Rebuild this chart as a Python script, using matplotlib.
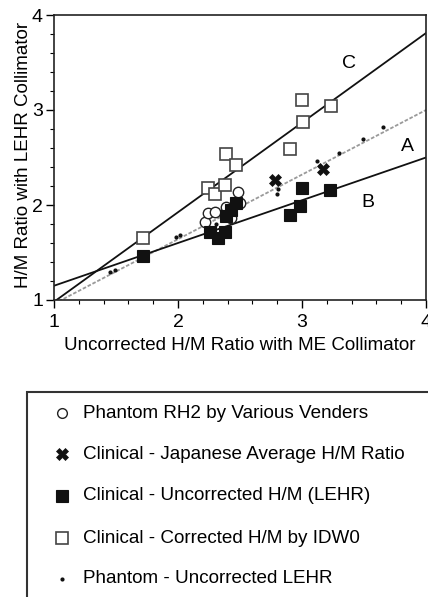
import matplotlib
matplotlib.use("Agg")
import matplotlib.pyplot as plt
import numpy as np
from matplotlib.lines import Line2D
from matplotlib.patches import Rectangle
from matplotlib.ticker import MultipleLocator

plt.rcParams["font.family"] = ["Liberation Sans", "DejaVu Sans"]

# ---- data ----
circ_x = [2.22, 2.245, 2.30, 2.385, 2.43, 2.50, 2.486]
circ_y = [1.82, 1.92, 1.93, 1.98, 1.86, 2.02, 2.14]

cross_x = [2.78, 3.17]
cross_y = [2.26, 2.375]

fsq_x = [1.72, 2.258, 2.325, 2.38, 2.39, 2.43, 2.47, 2.90, 2.98, 3.00, 3.226]
fsq_y = [1.46, 1.72, 1.65, 1.72, 1.88, 1.95, 2.02, 1.895, 1.99, 2.18, 2.16]

osq_x = [1.72, 2.245, 2.30, 2.38, 2.39, 2.47, 2.90, 3.00, 3.01, 3.23]
osq_y = [1.65, 2.18, 2.12, 2.21, 2.54, 2.42, 2.59, 3.11, 2.87, 3.04]

dot_x = [1.45, 1.49, 1.98, 2.02, 2.31, 2.80, 2.81, 3.12, 3.30, 3.49, 3.65]
dot_y = [1.30, 1.32, 1.66, 1.68, 1.80, 2.12, 2.165, 2.46, 2.55, 2.69, 2.82]

line_names = ["A", "B", "C"]
line_slopes = [0.68, 0.45, 0.943]
line_icpts = [0.28, 0.70, 0.038]
label_pos = {"A": (3.85, 2.62), "B": (3.53, 2.03), "C": (3.38, 3.49)}

legend_labels = ["Phantom RH2 by Various Venders",
                 "Clinical - Japanese Average H/M Ratio",
                 "Clinical - Uncorrected H/M (LEHR)",
                 "Clinical - Corrected H/M by IDW0",
                 "Phantom - Uncorrected LEHR"]

fig = plt.figure(figsize=(4.28, 5.97), dpi=100)
ax = fig.add_axes([54 / 428, 297 / 597, 372 / 428, 285 / 597])

xs = np.array([1.0, 4.0])
for name, m, b in zip(line_names, line_slopes, line_icpts):
    if name == "A":
        ax.plot(xs, m * xs + b, color="#9a9a9a", lw=1.3, ls=(0, (2, 1)), zorder=2)
    else:
        ax.plot(xs, m * xs + b, color="#111111", lw=1.3, zorder=2)
    lx, ly = label_pos[name]
    ax.text(lx, ly, name, fontsize=14, ha="center", va="center")

styles = [
    dict(marker="o", ms=7.5, mfc="white", mec="#222222", mew=1.0),
    dict(marker="X", ms=9, mfc="#111111", mec="#111111", mew=0.5),
    dict(marker="s", ms=8.5, mfc="#111111", mec="#111111", mew=0.8),
    dict(marker="s", ms=8.5, mfc="white", mec="#444444", mew=1.2),
    dict(marker="o", ms=3, mfc="#111111", mec="#111111", mew=0),
]
series = [(circ_x, circ_y), (cross_x, cross_y), (fsq_x, fsq_y),
          (osq_x, osq_y), (dot_x, dot_y)]
zorders = [3, 5, 4, 3, 5]
for (sx, sy), st, z in zip(series, styles, zorders):
    ax.plot(sx, sy, ls="none", zorder=z, **st)

ax.set_xlim(1, 4)
ax.set_ylim(1, 4)
ax.xaxis.set_major_locator(MultipleLocator(1))
ax.yaxis.set_major_locator(MultipleLocator(1))
ax.xaxis.set_minor_locator(MultipleLocator(0.2))
ax.yaxis.set_minor_locator(MultipleLocator(0.2))
ax.tick_params(which="major", direction="out", length=6, width=1, labelsize=14)
ax.tick_params(axis="x", which="major", pad=4)
ax.tick_params(axis="y", which="major", pad=2)
ax.tick_params(which="minor", direction="out", length=3, width=0.8)
for sp in ax.spines.values():
    sp.set_linewidth(1.2)
    sp.set_color("#222222")
ax.set_xlabel("Uncorrected H/M Ratio with ME Collimator", fontsize=13.5, va="center")
ax.set_ylabel("H/M Ratio with LEHR Collimator", fontsize=13.5, va="center")
ax.xaxis.set_label_coords(0.5, -0.158)
ax.yaxis.set_label_coords(-0.083, 0.509)

# legend box (clipped by figure edge, as in the reference)
fig.add_artist(Rectangle((27 / 428, -0.1), 1.0, 0.3434 + 0.1,
                         transform=fig.transFigure, fill=False,
                         ec="#333333", lw=1.5))
row_y = [0.3082, 0.2395, 0.1692, 0.0988, 0.0302]
leg_sizes = [7, 8.5, 8.5, 8.5, 3]
for lab, st, yy, ms in zip(legend_labels, styles, row_y, leg_sizes):
    st = dict(st)
    st["ms"] = ms
    fig.add_artist(Line2D([0.144], [yy], transform=fig.transFigure, ls="none", **st))
    fig.text(0.194, yy, lab, fontsize=13.6, va="center", ha="left")

fig.savefig("out.png", dpi=100)
